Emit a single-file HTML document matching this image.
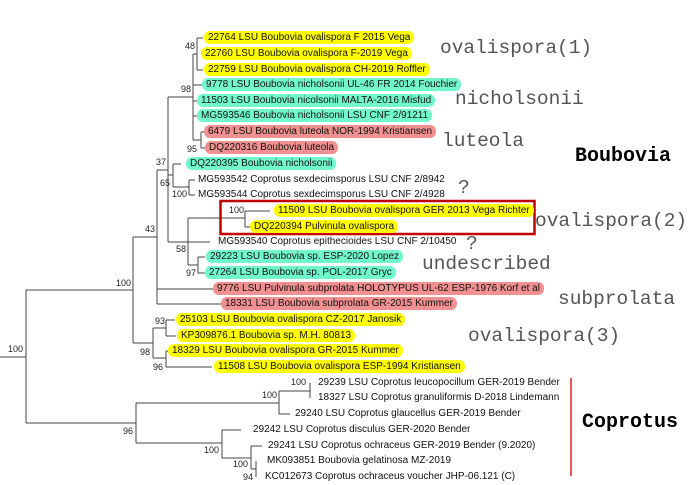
<!DOCTYPE html>
<html><head><meta charset="utf-8"><style>
body{margin:0;width:692px;height:485px;background:#fff;position:relative;overflow:hidden;font-family:"Liberation Sans",sans-serif}
.t{position:absolute;font-size:10px;line-height:13px;height:13px;white-space:nowrap;color:#111;padding:0 4px;border-radius:6px;transform:translateY(-7px)}
.y{background:#ffff00}.c{background:#72f7cc}.r{background:#f19090}
.b{position:absolute;font-size:9px;color:#222;transform:translateY(-6px)}
.g{position:absolute;font-family:"Liberation Mono",monospace;font-size:19.5px;color:#555;white-space:nowrap}
</style></head><body>
<svg width="692" height="485" style="position:absolute;left:0;top:0" fill="none" stroke="#444" stroke-width="1">
<path d="M0 357H26M26 290V423M26 290H133M133 237V343M133 237H157M157 170V304M157 289H213M157 304H222M157 170H168M168 97V242M168 242H210M168 175H173M173 164V187M173 164H181M173 187H189M189 180V195M189 180H195M189 195H195M168 97H193M193 54V140M193 54H197M197 38V70M197 38H203M197 70H203M193 85H202M193 101H199M193 116H199M193 140H201M201 132V148M201 132H205M201 148H205"/>
<path d="M188 218V265M188 218H245M245 211V227M245 211H270M245 227H250M188 265H198M198 257V273M198 257H205M198 273H205"/>
<path d="M133 343H153M153 328V358M153 328H166M166 320V336M166 320H175M166 336H176M153 358H166M166 351V367M166 351H168M166 367H212"/>
<path d="M26 423H136M136 403V443M136 403H279M279 391V414M279 391H310M310 383V398M279 414H290M136 443H222M222 430V458M222 430H241M222 458H251M251 446V469M251 446H262M251 469H256M256 461V477"/>
<rect x="220.5" y="201" width="314" height="33" stroke="#c00000" stroke-width="2.5"/>
<path d="M571 378V476" stroke="#e02020" stroke-width="1.5"/>
</svg>
<div class="t y" style="left:204px;top:38px">22764 LSU Boubovia ovalispora F 2015 Vega</div>
<div class="t y" style="left:201px;top:54px">22760 LSU Boubovia ovalispora F-2019 Vega</div>
<div class="t y" style="left:204px;top:70px">22759 LSU Boubovia ovalispora CH-2019 Roffler</div>
<div class="t c" style="left:202px;top:85px">9778 LSU Boubovia nicholsonii UL-46 FR 2014 Fouchier</div>
<div class="t c" style="left:197px;top:101px">11503 LSU Boubovia nicolsonii MALTA-2016 Misfud</div>
<div class="t c" style="left:197px;top:116px">MG593546 Boubovia nicholsonii LSU CNF 2/91211</div>
<div class="t r" style="left:204px;top:132px">6479 LSU Boubovia luteola NOR-1994 Kristiansen</div>
<div class="t r" style="left:205px;top:148px">DQ220316 Boubovia luteola</div>
<div class="t c" style="left:186px;top:164px">DQ220395 Boubovia nicholsonii</div>
<div class="t" style="left:194px;top:180px">MG593542 Coprotus sexdecimsporus LSU CNF 2/8942</div>
<div class="t" style="left:194px;top:195px">MG593544 Coprotus sexdecimsporus LSU CNF 2/4928</div>
<div class="t y" style="left:274px;top:211px">11509 LSU Boubovia ovalispora GER 2013 Vega Richter</div>
<div class="t y" style="left:250px;top:227px">DQ220394 Pulvinula ovalispora</div>
<div class="t" style="left:214px;top:242px">MG593540 Coprotus epithecioides LSU CNF 2/10450</div>
<div class="t c" style="left:206px;top:257px">29223 LSU Boubovia sp. ESP-2020 Lopez</div>
<div class="t c" style="left:205px;top:273px">27264 LSU Boubovia sp. POL-2017 Gryc</div>
<div class="t r" style="left:213px;top:289px">9776 LSU Pulvinula subprolata HOLOTYPUS UL-62 ESP-1976 Korf et al</div>
<div class="t r" style="left:221px;top:304px">18331 LSU Boubovia subprolata GR-2015 Kummer</div>
<div class="t y" style="left:176px;top:320px">25103 LSU Boubovia ovalispora CZ-2017 Janosik</div>
<div class="t y" style="left:177px;top:336px">KP309876.1 Boubovia sp. M.H. 80813</div>
<div class="t y" style="left:168px;top:351px">18329 LSU Boubovia ovalispora GR-2015 Kummer</div>
<div class="t y" style="left:214px;top:367px">11508 LSU Boubovia ovalispora ESP-1994 Kristiansen</div>
<div class="t" style="left:314px;top:383px">29239 LSU Coprotus leucopocillum GER-2019 Bender</div>
<div class="t" style="left:314px;top:398px">18327 LSU Coprotus granuliformis D-2018 Lindemann</div>
<div class="t" style="left:291px;top:414px">29240 LSU Coprotus glaucellus GER-2019 Bender</div>
<div class="t" style="left:249px;top:430px">29242 LSU Coprotus disculus GER-2020 Bender</div>
<div class="t" style="left:264px;top:446px">29241 LSU Coprotus ochraceus GER-2019 Bender (9.2020)</div>
<div class="t" style="left:263px;top:461px">MK093851 Boubovia gelatinosa MZ-2019</div>
<div class="t" style="left:261px;top:477px">KC012673 Coprotus ochraceus voucher JHP-06.121 (C)</div>
<div class="b" style="left:185px;top:47px">48</div>
<div class="b" style="left:181px;top:90px">98</div>
<div class="b" style="left:187px;top:150px">95</div>
<div class="b" style="left:156px;top:163px">37</div>
<div class="b" style="left:160px;top:184px">65</div>
<div class="b" style="left:172px;top:195px">100</div>
<div class="b" style="left:145px;top:230px">43</div>
<div class="b" style="left:229px;top:211px">100</div>
<div class="b" style="left:176px;top:250px">58</div>
<div class="b" style="left:186px;top:274px">97</div>
<div class="b" style="left:116px;top:284px">100</div>
<div class="b" style="left:155px;top:322px">93</div>
<div class="b" style="left:140px;top:353px">98</div>
<div class="b" style="left:153px;top:368px">96</div>
<div class="b" style="left:8px;top:350px">100</div>
<div class="b" style="left:291px;top:383px">100</div>
<div class="b" style="left:262px;top:396px">100</div>
<div class="b" style="left:123px;top:432px">96</div>
<div class="b" style="left:204px;top:451px">100</div>
<div class="b" style="left:233px;top:465px">100</div>
<div class="b" style="left:243px;top:478px">94</div>
<div class="g" style="left:440px;top:37px">ovalispora(1)</div>
<div class="g" style="left:455px;top:88px">nicholsonii</div>
<div class="g" style="left:442px;top:130px">luteola</div>
<div class="g" style="left:575px;top:145px;font-size:20px;font-weight:bold;color:#000">Boubovia</div>
<div class="g" style="left:458px;top:177px">?</div>
<div class="g" style="left:535px;top:210px">ovalispora(2)</div>
<div class="g" style="left:466px;top:233px">?</div>
<div class="g" style="left:422px;top:253px">undescribed</div>
<div class="g" style="left:558px;top:288px">subprolata</div>
<div class="g" style="left:468px;top:325px">ovalispora(3)</div>
<div class="g" style="left:582px;top:411px;font-size:20px;font-weight:bold;color:#000">Coprotus</div>
</body></html>
